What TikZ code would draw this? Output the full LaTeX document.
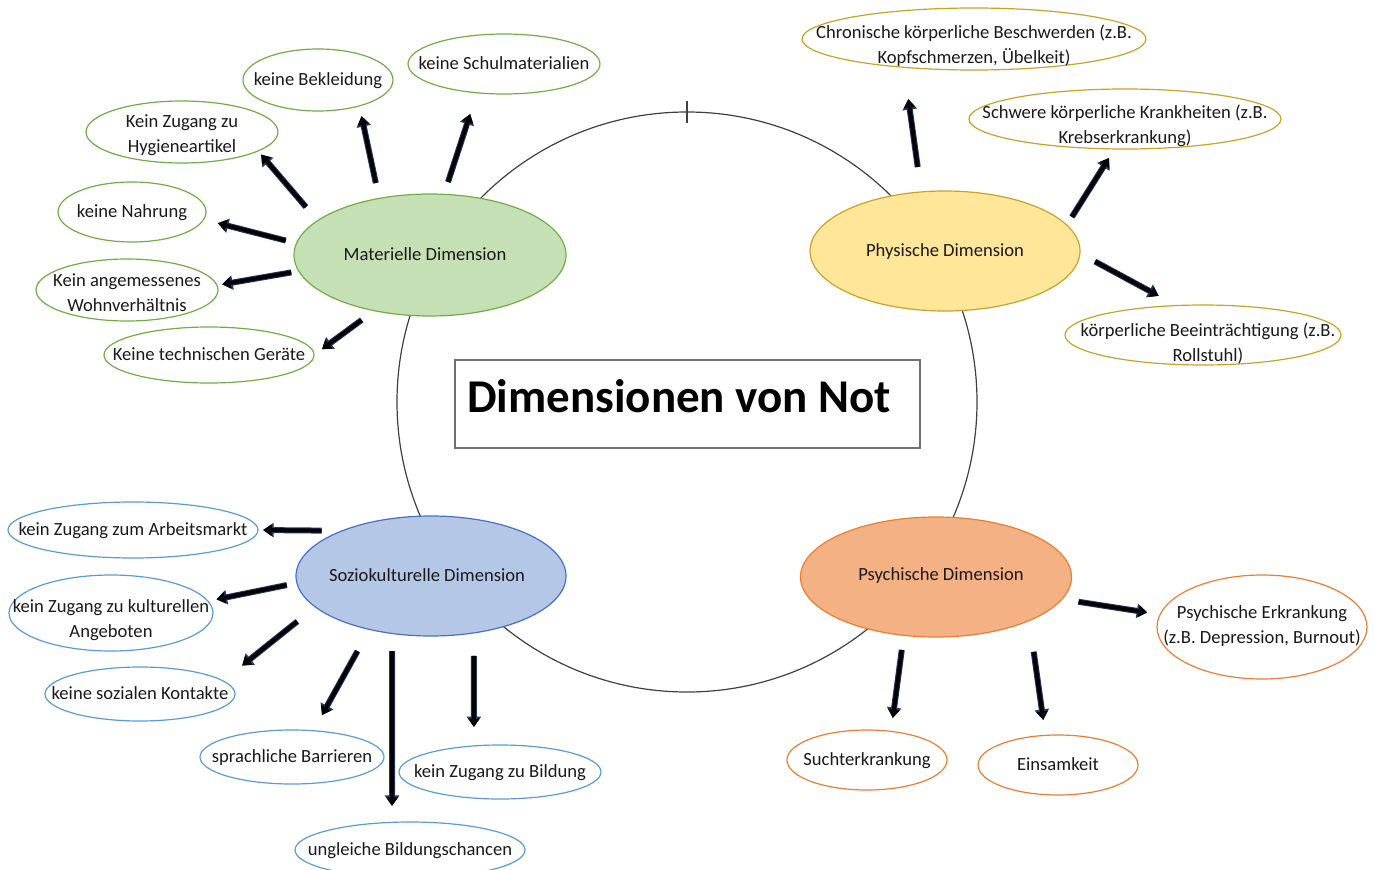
\documentclass[tikz,border=0pt]{standalone}
\usepackage{fontspec}
\setmainfont{Carlito}
\usetikzlibrary{shapes.geometric,arrows.meta}
\definecolor{matfill}{HTML}{C5E0B4}
\definecolor{matline}{HTML}{70AD47}
\definecolor{phyfill}{HTML}{FFE699}
\definecolor{phyline}{HTML}{C9A227}
\definecolor{sozfill}{HTML}{B4C7E7}
\definecolor{sozline}{HTML}{4472C4}
\definecolor{sozleaf}{HTML}{5B9BD5}
\definecolor{psyfill}{HTML}{F4B183}
\definecolor{psyline}{HTML}{ED7D31}
\definecolor{ringline}{HTML}{404040}
\definecolor{boxline}{HTML}{707070}
\definecolor{arrowedge}{HTML}{1F3864}
\definecolor{textcol}{HTML}{1A1A1A}
\newcommand{\etext}[2][0pt]{\makebox[0pt]{\raisebox{\dimexpr-.28em-#1\relax}[0pt][0pt]{\begin{tabular}{@{}c@{}}#2\end{tabular}}}}
\tikzset{
	dim/.style={ellipse, inner sep=0pt, outer sep=0pt, line width=1.2pt, text=textcol, font=\fontsize{18.6}{25}\selectfont},
	core/.style n args={4}{dim, draw=#1, fill=#2, minimum width=#3, minimum height=#4},
	leaf/.style n args={3}{dim, draw=#1, fill=white, minimum width=#2, minimum height=#3},
	arr/.style={draw=black, line width=4pt, -{Triangle[width=11pt,length=8.5pt]},
		preaction={draw=arrowedge, line width=6pt, -{Triangle[width=14pt,length=10.5pt]}}}
}
\begin{document}
\begin{tikzpicture}[x=1pt, y=-1pt]
	\useasboundingbox (0,0) rectangle (1374,870);
		\node [circle, draw=ringline, line width=1.2pt, inner sep=0pt, outer sep=0pt, minimum size=580pt] (ring) at (687,402) {};
		\draw[ringline, line width=1.2pt] ([yshift=11pt]ring.north) -- ([yshift=-11pt]ring.north);
		\node [draw=boxline, line width=1.3pt, fill=white, inner sep=0pt, minimum width=465pt, minimum height=88pt] (box) at (687.5,404) {};
		\node [anchor=base west, inner sep=0pt, font=\fontsize{47}{50}\selectfont\bfseries] (title) at (467,412) {Dimensionen von Not};
		\node [core={matline}{matfill}{272pt}{122pt}] (mat) at (430,255) {\etext{\hspace*{-10pt}Materielle Dimension}};
		\node [core={phyline}{phyfill}{270pt}{120pt}] (phy) at (945,251) {\etext{Physische Dimension}};
		\node [core={sozline}{sozfill}{270pt}{120pt}] (soz) at (431,576) {\etext{\hspace*{-8pt}Soziokulturelle Dimension}};
		\node [core={psyline}{psyfill}{271pt}{120pt}] (psy) at (936,577) {\etext[-2pt]{Psychische Dimension\hspace*{-10pt}}};
		\node [leaf={matline}{192pt}{60pt}] (schul) at (504,64) {\etext{keine Schulmaterialien}};
		\node [leaf={matline}{150pt}{62pt}] (bekl) at (318,80) {\etext{keine Bekleidung}};
		\node [leaf={matline}{192pt}{62pt}] (hyg) at (182,132) {\etext[2pt]{Kein Zugang zu\\Hygieneartikel}};
		\node [leaf={matline}{148pt}{60pt}] (nahr) at (132,212) {\etext{keine Nahrung}};
		\node [leaf={matline}{182pt}{62pt}] (wohn) at (127,290) {\etext[3.5pt]{Kein angemessenes\\Wohnverhältnis}};
		\node [leaf={matline}{210pt}{56pt}] (geraet) at (209,355) {\etext{Keine technischen Geräte}};
		\node [leaf={phyline}{344pt}{62pt}] (chron) at (974,39) {\etext[6.5pt]{Chronische körperliche Beschwerden (z.B.\\Kopfschmerzen, Übelkeit)}};
		\node [leaf={phyline}{312pt}{60pt}] (schwer) at (1125,119) {\etext[6.5pt]{Schwere körperliche Krankheiten (z.B.\\Krebserkrankung)}};
		\node [leaf={phyline}{276pt}{60pt}] (beein) at (1203,335) {\etext[8pt]{\hspace{10pt}körperliche Beeinträchtigung (z.B.\\\hspace{10pt}Rollstuhl)}};
		\node [leaf={sozleaf}{250pt}{56pt}] (arbeit) at (133,530) {\etext{kein Zugang zum Arbeitsmarkt}};
		\node [leaf={sozleaf}{204pt}{76pt}] (kultur) at (111,613) {\etext[6.5pt]{kein Zugang zu kulturellen\\Angeboten}};
		\node [leaf={sozleaf}{190pt}{54pt}] (kontakt) at (140,694) {\etext{keine sozialen Kontakte}};
		\node [leaf={sozleaf}{184pt}{54pt}] (sprach) at (292,757) {\etext{sprachliche Barrieren}};
		\node [leaf={sozleaf}{230pt}{56pt}] (chancen) at (410,850) {\etext{ungleiche Bildungschancen}};
		\node [leaf={sozleaf}{202pt}{54pt}] (bildung) at (500,772) {\etext{kein Zugang zu Bildung}};
		\node [leaf={psyline}{210pt}{104pt}] (erkr) at (1262,627) {\etext[-2pt]{Psychische Erkrankung\\(z.B. Depression, Burnout)}};
		\node [leaf={psyline}{160pt}{60pt}] (sucht) at (867,760) {\etext{Suchterkrankung}};
		\node [leaf={psyline}{160pt}{60pt}] (einsam) at (1058,765) {\etext{Einsamkeit}};
		\draw[arr, shorten <=13pt, shorten >=22.3pt] (mat.77) -- (schul.227);
		\draw[arr, shorten <=15.8pt, shorten >=10.5pt] (mat.132) -- (bekl.328);
		\draw[arr, shorten <=18pt, shorten >=4.8pt] (mat.163) -- (hyg.346);
		\draw[arr, shorten <=11.1pt, shorten >=14.7pt] (mat.175) -- (nahr.354);
		\draw[arr, shorten <=7.7pt, shorten >=5.3pt] (mat.187) -- (wohn.3);
		\draw[arr, shorten <=15.8pt, shorten >=9.9pt] (mat.225) -- (geraet.0);
		\draw[arr, shorten <=25.2pt, shorten >=32.1pt] (phy.112) -- (chron.202);
		\draw[arr, shorten <=9.7pt, shorten >=10.7pt] (phy.12) -- (schwer.251);
		\draw[arr, shorten <=17.2pt, shorten >=20.3pt] (phy.359) -- (beein.132);
		\draw[arr, shorten <=20.7pt, shorten >=5.1pt] (soz.153) -- (arbeit.0);
		\draw[arr, shorten <=10.4pt, shorten >=8.8pt] (soz.183) -- (kultur.7);
		\draw[arr, shorten <=23.2pt, shorten >=24.5pt] (soz.195) -- (kontakt.9);
		\draw[arr, shorten <=24.8pt, shorten >=17.9pt] (soz.221) -- (sprach.51);
		\draw[arr, shorten <=17.6pt, shorten >=16.4pt] (soz.236) -- (chancen.123);
		\draw[arr, shorten <=23.1pt, shorten >=18.9pt] (soz.307) -- (bildung.135);
		\draw[arr, shorten <=16.9pt, shorten >=13pt] (psy.350) -- (erkr.173);
		\draw[arr, shorten <=14.8pt, shorten >=13.5pt] (psy.241) -- (sucht.50);
		\draw[arr, shorten <=31.6pt, shorten >=15.6pt] (psy.335) -- (einsam.113);
	\end{tikzpicture}
\end{document}
